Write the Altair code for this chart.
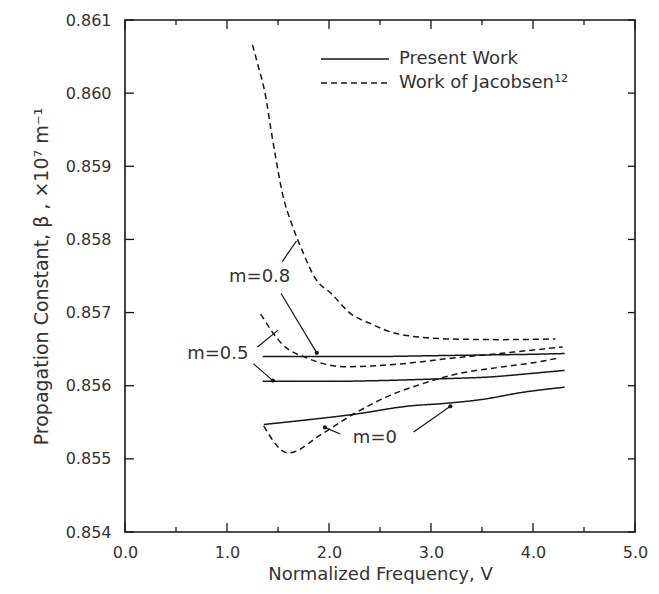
import altair as alt
import pandas as pd

# ---------------- data ----------------
# Present Work (solid)
pw_m08_v = [1.35, 2.0, 2.5, 3.0, 3.5, 4.0, 4.31]
pw_m08_b = [0.85640, 0.85640, 0.85640, 0.85641, 0.85642, 0.85643, 0.85644]
pw_m05_v = [1.35, 2.0, 2.5, 3.0, 3.22, 3.58, 4.0, 4.31]
pw_m05_b = [0.85606, 0.85606, 0.85607, 0.85609, 0.85610, 0.85612, 0.85617, 0.85621]
pw_m0_v = [1.36, 1.70, 2.25, 2.77, 3.15, 3.49, 3.90, 4.31]
pw_m0_b = [0.85547, 0.85552, 0.85561, 0.85572, 0.85576, 0.85581, 0.85591, 0.85598]

# Work of Jacobsen (dashed)
jw_m08_v = [1.25, 1.30, 1.38, 1.43, 1.48, 1.54, 1.64, 1.74, 1.86, 2.03, 2.20, 2.42, 2.67, 3.16, 3.70, 4.22]
jw_m08_b = [0.86066, 0.86040, 0.85995, 0.85951, 0.85910, 0.85865, 0.85819, 0.85784, 0.85748,
            0.85725, 0.85700, 0.85684, 0.85671, 0.85664, 0.85663, 0.85664]
jw_m05_v = [1.33, 1.54, 1.80, 2.16, 2.64, 3.16, 3.81, 4.29]
jw_m05_b = [0.85698, 0.85657, 0.85637, 0.85626, 0.85629, 0.85637, 0.85646, 0.85653]
jw_m0_v = [1.36, 1.60, 1.93, 2.25, 2.57, 2.90, 3.22, 3.71, 4.07, 4.25]
jw_m0_b = [0.85545, 0.85508, 0.85534, 0.85562, 0.85585, 0.85602, 0.85615, 0.85626, 0.85633, 0.85638]

series_names = ["Present Work", "Work of Jacobsen\u00b9\u00b2"]

# axis ticks
x_major = [0, 1, 2, 3, 4, 5]
x_minor = [0.5, 1.5, 2.5, 3.5, 4.5]
y_major = [0.854, 0.855, 0.856, 0.857, 0.858, 0.859, 0.860, 0.861]

# annotations (label positions in data units)
ann_text = ["m=0.8", "m=0.5", "m=0"]
ann_v = [1.32, 0.91, 2.45]
ann_b = [0.85748, 0.856436, 0.855286]

# leader segments: start V, start beta, end V, end beta
lead_v1 = [1.54, 1.53, 1.30, 1.26, 2.11, 2.83]
lead_b1 = [0.857694, 0.857261, 0.85653, 0.85630, 0.85534, 0.855367]
lead_v2 = [1.68, 1.88, 1.50, 1.45, 1.96, 3.19]
lead_b2 = [0.857978, 0.856449, 0.85676, 0.85607, 0.85543, 0.855719]
lead_dot = [False, True, False, True, True, True]

# ---------------- build tables ----------------
rows = []
curves = [
    ("pw08", series_names[0], pw_m08_v, pw_m08_b),
    ("pw05", series_names[0], pw_m05_v, pw_m05_b),
    ("pw0", series_names[0], pw_m0_v, pw_m0_b),
    ("jw08", series_names[1], jw_m08_v, jw_m08_b),
    ("jw05", series_names[1], jw_m05_v, jw_m05_b),
    ("jw0", series_names[1], jw_m0_v, jw_m0_b),
]
for cid, s, vs, bs in curves:
    for i, (v, b) in enumerate(zip(vs, bs)):
        rows.append({"curve": cid, "series": s, "V": v, "beta": b, "ord": i})
df = pd.DataFrame(rows)

ann_df = pd.DataFrame({"text": ann_text, "V": ann_v, "beta": ann_b})
lead_df = pd.DataFrame({"V": lead_v1, "beta": lead_b1, "V2": lead_v2, "beta2": lead_b2, "dot": lead_dot})
dot_df = lead_df[lead_df["dot"]].drop(columns=["V", "beta"]).rename(columns={"V2": "V", "beta2": "beta"})

W, H = 510, 512
INK = "#161616"
TXT = "#333333"
FONT = "DejaVu Sans"
X_TITLE = "Normalized Frequency, V"
Y_TITLE = "Propagation Constant, \u03b2 , \u00d710\u2077 m\u207b\u00b9"

xs = alt.Scale(domain=[0, 5], nice=False, zero=False)
ys = alt.Scale(domain=[0.854, 0.861], nice=False, zero=False)

xaxis = alt.Axis(values=x_major, format=".1f", ticks=False, tickSize=0, domain=False, grid=False,
                 labelFlush=False, labelFont=FONT, labelFontSize=16, labelColor=TXT, labelPadding=12,
                 titleFont=FONT, titleFontSize=18, titleFontWeight="normal", titleColor=TXT,
                 titlePadding=5)
yaxis = alt.Axis(values=y_major, format=".3f", ticks=False, tickSize=0, domain=False, grid=False,
                 labelFlush=False, labelFont=FONT, labelFontSize=16, labelColor=TXT, labelPadding=14,
                 titleFont=FONT, titleFontSize=19, titleFontWeight="normal", titleColor=TXT,
                 titlePadding=14)

X = lambda f: alt.X(f, scale=xs, axis=xaxis, title=X_TITLE)
Y = lambda f: alt.Y(f, scale=ys, axis=yaxis, title=Y_TITLE)

lines = alt.Chart(df).mark_line(color=INK, strokeWidth=1.5, interpolate="monotone").encode(
    x=X("V:Q"),
    y=Y("beta:Q"),
    strokeDash=alt.StrokeDash(
        "series:N",
        scale=alt.Scale(domain=series_names, range=[[1, 0], [6, 4]]),
        legend=alt.Legend(title=None, orient="none", legendX=195, legendY=31, symbolType="stroke",
                          symbolSize=68 * 68, symbolStrokeWidth=1.6, symbolStrokeColor=INK,
                          clipHeight=16, rowPadding=6, labelFont=FONT, labelFontSize=18,
                          labelColor=TXT, labelOffset=9, labelLimit=400, padding=0),
    ),
    detail="curve:N",
    order="ord:Q",
)

tick_style = dict(color=INK, strokeWidth=1.3)
tk_maj = pd.DataFrame({"V": x_major})
tk_min = pd.DataFrame({"V": x_minor})
tk_y = pd.DataFrame({"beta": y_major})

def xticks(data, length, at_bottom):
    y0 = H if at_bottom else 0
    y1 = H - length if at_bottom else length
    return alt.Chart(data).mark_rule(**tick_style).encode(
        x=X("V:Q"), y=alt.value(y0), y2=alt.value(y1))

def yticks(data, length, at_left):
    x0 = 0 if at_left else W
    x1 = length if at_left else W - length
    return alt.Chart(data).mark_rule(**tick_style).encode(
        y=Y("beta:Q"), x=alt.value(x0), x2=alt.value(x1))

ticks = [
    xticks(tk_maj, 9, True), xticks(tk_min, 5, True),
    xticks(tk_maj, 9, False), xticks(tk_min, 5, False),
    yticks(tk_y, 9, True), yticks(tk_y, 7, False),
]

leaders = alt.Chart(lead_df).mark_rule(color=INK, strokeWidth=1.2).encode(
    x=X("V:Q"), y=Y("beta:Q"), x2="V2:Q", y2="beta2:Q")

dots = alt.Chart(dot_df).mark_point(filled=True, color=INK, size=18, opacity=1).encode(
    x=X("V:Q"), y=Y("beta:Q"))

labels = alt.Chart(ann_df).mark_text(font=FONT, fontSize=18, color=TXT).encode(
    x=X("V:Q"), y=Y("beta:Q"), text="text:N")

chart = alt.layer(lines, *ticks, leaders, dots, labels).properties(
    width=W, height=H,
    autosize=alt.AutoSizeParams(type="none"),
    padding={"left": 117, "top": 12, "right": 16, "bottom": 52},
    background="white",
).configure_view(stroke=INK, strokeWidth=1.6)

chart.save("out.html", embed_options={"renderer": "svg", "actions": False})
